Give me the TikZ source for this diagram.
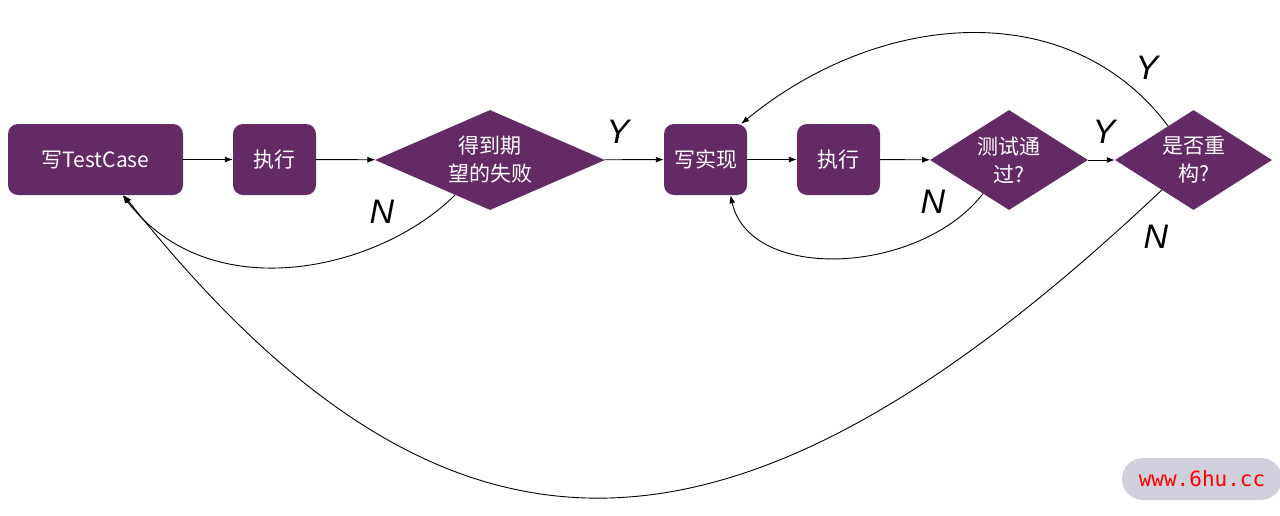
\documentclass[tikz,border=0pt]{standalone}
\usepackage{fontspec}
\setmainfont{Noto Sans CJK SC}
\newfontfamily\ynfont{Liberation Sans}
\newfontfamily\wmfont{DejaVu Sans Mono}
\usetikzlibrary{arrows.meta,shapes.geometric}
\definecolor{tddpurple}{RGB}{99,42,102}
\definecolor{wmgray}{RGB}{208,208,220}

\begin{document}
\begin{tikzpicture}[x=1pt,y=-1pt,
  box/.style={rectangle, rounded corners=10pt, fill=tddpurple, text=white,
    font=\fontsize{21}{28}\selectfont, minimum height=71pt, inner sep=0pt},
  judge/.style={diamond, fill=tddpurple, text=white, align=center,
    font=\fontsize{21}{28}\selectfont, inner sep=0pt, minimum height=100pt},
  flow/.style={-{Latex[length=8pt,width=6pt]}, line width=0.9pt},
  yn/.style={font=\ynfont\itshape\fontsize{34}{34}\selectfont},
  wm/.style={fill=wmgray, rounded corners=21pt, minimum width=160pt,
    minimum height=42pt, text=red, font=\wmfont\fontsize{21}{21}\selectfont}]
\useasboundingbox (0,0) rectangle (1280,515);

% 第一轮:测试用例
\node[box, minimum width=175pt] (tc) at (95.5,159.5) {写TestCase};
\node[box, minimum width=83pt] (ex1) at (274.5,159.5) {执行};
\node[judge, aspect=2.3, minimum width=230pt] (d1) at (490,160) {得到期\\望的失败};

% 第二轮:实现
\node[box, minimum width=83pt] (sx) at (705.5,159.5) {写实现};
\node[box, minimum width=83pt] (ex2) at (838.5,159.5) {执行};
\node[judge, aspect=1.58, minimum width=158pt] (d2) at (1009,160) {测试通\\过?};
\node[judge, aspect=1.57, minimum width=157pt] (d3) at (1193.5,160) {是否重\\构?};

% 直线连接
\draw[flow] (tc) -- (ex1);
\draw[flow] (ex1) -- (d1);
\draw[flow] (d1) -- (sx);
\draw[flow] (sx) -- (ex2);
\draw[flow] (ex2) -- (d2);
\draw[flow] (d2) -- (d3);

% 回路
\draw[flow] (d1) .. controls (380,270) and (210,310) .. (tc);
\draw[flow] (d2) .. controls (920,275) and (750,283) .. (sx.-55);
\draw[flow] (d3) .. controls (1070,-5) and (880,10) .. (sx.45);
\draw[flow] (d3) .. controls (728,600) and (444,598) .. (tc);

% 标签
\node[yn] (y1) at (618,132) {Y};
\node[yn] (n1) at (382,212) {N};
\node[yn] (n2) at (933,202) {N};
\node[yn] (y2) at (1104,132) {Y};
\node[yn] (y3) at (1147,68) {Y};
\node[yn] (n3) at (1156,237) {N};

% 水印
\node[wm] (mark) at (1202,479) {www.6hu.cc};
\end{tikzpicture}
\end{document}
